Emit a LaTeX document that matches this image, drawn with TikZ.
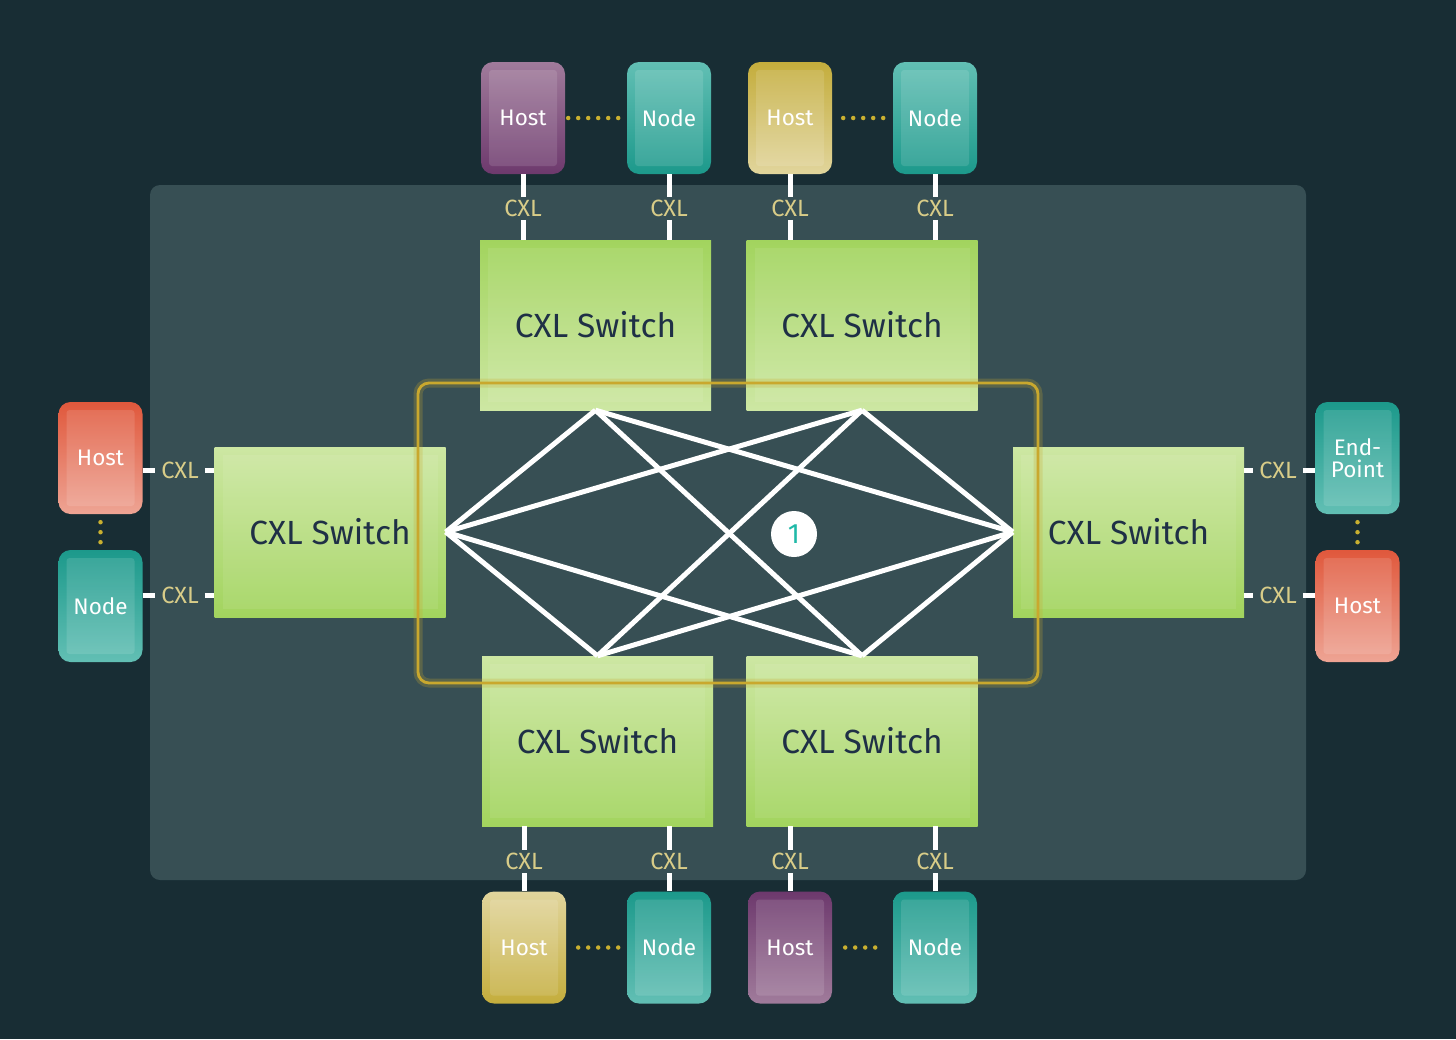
\documentclass[tikz,border=0pt]{standalone}
\usepackage{fontspec}
\setmainfont{Fira Sans}
\usetikzlibrary{calc}
\definecolor{bgdark}{HTML}{182D34}
\definecolor{panel}{HTML}{374F54}
\definecolor{purpleL}{HTML}{A07B9B}
\definecolor{purpleD}{HTML}{6D396D}
\definecolor{tealL}{HTML}{62BFB4}
\definecolor{tealD}{HTML}{1C998B}
\definecolor{yellowL}{HTML}{E1D59C}
\definecolor{yellowD}{HTML}{C4AD3C}
\definecolor{redL}{HTML}{EEA494}
\definecolor{redD}{HTML}{E0583C}
\definecolor{greenL}{HTML}{CDE7A3}
\definecolor{greenD}{HTML}{A2D45E}
\definecolor{swtext}{HTML}{1F3046}
\definecolor{cxltext}{HTML}{D8CC88}
\definecolor{dotcol}{HTML}{C9B030}
\definecolor{ringcol}{HTML}{C9A82E}
\definecolor{onecol}{HTML}{20B9A8}
\tikzset{
  dev/.style 2 args={rounded corners=12pt, minimum width=84pt, minimum height=112pt,
    inner sep=0pt, top color=#1, bottom color=#2, text=white,
    font=\fontsize{22.5}{24}\selectfont,
    path picture={\fill[white,fill opacity=0.12,rounded corners=3pt]
      ([shift={(8pt,-8pt)}]path picture bounding box.north west) rectangle
      ([shift={(-8pt,8pt)}]path picture bounding box.south east);}},
  sw/.style 2 args={minimum width=231pt, minimum height=170pt, inner sep=0pt,
    top color=#1, bottom color=#2, text=swtext,
    font=\fontsize{33.5}{38}\selectfont,
    path picture={\fill[white,fill opacity=0.08]
      ([shift={(8pt,-8pt)}]path picture bounding box.north west) rectangle
      ([shift={(-8pt,8pt)}]path picture bounding box.south east);}},
  cxl/.style={text=cxltext, font=\fontsize{23.5}{26}\selectfont, inner xsep=6pt, inner ysep=3pt},
  wire/.style={white, line width=5pt},
  mesh/.style={white, line width=5pt},
  dots/.style={dotcol, line width=4.5pt, line cap=round, dash pattern=on 0pt off 10pt},
}
\begin{document}
\begin{tikzpicture}[x=1pt,y=1pt]
\fill[bgdark] (0,0) rectangle (1456,-1039);
\useasboundingbox (0,0) rectangle (1456,-1039);
\fill[panel, rounded corners=10pt] (150,-185) rectangle (1306,-880);

% switches
\node[sw={greenD}{greenL}] (swTL) at (595.5,-325) {CXL Switch};
\node[sw={greenD}{greenL}] (swTR) at (862,-325) {CXL Switch};
\node[sw={greenL}{greenD}] (swL) at (330,-532) {CXL Switch};
\node[sw={greenL}{greenD}] (swR) at (1128.5,-532) {CXL Switch};
\node[sw={greenL}{greenD}] (swBL) at (597.5,-741) {CXL Switch};
\node[sw={greenL}{greenD}] (swBR) at (862,-741) {CXL Switch};

% mesh
\foreach \a in {swL.east, swR.west}
  \foreach \b in {swTL.south, swTR.south, swBL.north, swBR.north}
    \draw[mesh, line join=round] (\a) -- (\b);
\draw[mesh] (swTL.south) -- (swBR.north);
\draw[mesh] (swTR.south) -- (swBL.north);

% highlight ring
\draw[ringcol, line width=9pt, opacity=0.25, rounded corners=11pt] (418,-383) rectangle (1038,-683);
\draw[ringcol, line width=2.8pt, rounded corners=11pt] (418,-383) rectangle (1038,-683);

\node[circle, fill=white, minimum size=46pt, inner sep=0pt, text=onecol,
  font=\fontsize{28}{30}\selectfont] (one) at (794,-534) {1};

% top devices
\node[dev={purpleL}{purpleD}] (tH1) at (523,-118) {Host};
\node[dev={tealL}{tealD}] (tN1) at (669,-118) {Node};
\node[dev={yellowD}{yellowL}] (tH2) at (790,-118) {Host};
\node[dev={tealL}{tealD}] (tN2) at (935,-118) {Node};
% bottom devices
\node[dev={yellowL}{yellowD}] (bH1) at (524,-947.5) {Host};
\node[dev={tealD}{tealL}] (bN1) at (669,-947.5) {Node};
\node[dev={purpleD}{purpleL}] (bH2) at (790,-947.5) {Host};
\node[dev={tealD}{tealL}] (bN2) at (935,-947.5) {Node};
% left devices
\node[dev={redD}{redL}] (lH) at (100.5,-458) {Host};
\node[dev={tealD}{tealL}] (lN) at (100.5,-606) {Node};
% right devices
\node[dev={tealD}{tealL}, align=center, font=\fontsize{22.5}{22}\selectfont] (rE) at (1357.5,-458) {End-\\Point};
\node[dev={redD}{redL}] (rH) at (1357.5,-606) {Host};

% dotted links
\draw[dots, shorten <=3pt, shorten >=8pt] (tH1.east) -- (tN1.west);
\draw[dots, shorten <=11pt, shorten >=9pt] (tH2.east) -- (tN2.west);
\draw[dots, shorten <=12pt, shorten >=8pt] (bH1.east) -- (bN1.west);
\draw[dots, shorten <=13pt, shorten >=17pt] (bH2.east) -- (bN2.west);
\draw[dots, shorten <=8pt, shorten >=7pt] (lH.south) -- (lN.north);
\draw[dots, shorten <=8pt, shorten >=7pt] (rE.south) -- (rH.north);

% top CXL links
\foreach \d/\s/\n in {tH1/swTL/1, tN1/swTL/2, tH2/swTR/3, tN2/swTR/4}{
  \node[cxl] (tc\n) at ($(\d.south)+(0,-34)$) {CXL};
  \draw[wire] (\d.south) -- (tc\n.north);
  \draw[wire] (tc\n.south) -- (tc\n.south |- \s.north);
}
% bottom CXL links
\foreach \d/\s/\n in {bH1/swBL/1, bN1/swBL/2, bH2/swBR/3, bN2/swBR/4}{
  \node[cxl] (bc\n) at ($(\d.north)+(0,30)$) {CXL};
  \draw[wire] (\d.north) -- (bc\n.south);
  \draw[wire] (bc\n.north) -- (bc\n.north |- \s.south);
}
% left CXL links
\node[cxl] (lc1) at (180,-470) {CXL};
\node[cxl] (lc2) at (180,-595) {CXL};
\draw[wire] (lc1.west -| lH.east) -- (lc1.west);
\draw[wire] (lc1.east) -- (lc1.east -| swL.west);
\draw[wire] (lc2.west -| lN.east) -- (lc2.west);
\draw[wire] (lc2.east) -- (lc2.east -| swL.west);
% right CXL links
\node[cxl] (rc1) at (1278,-470) {CXL};
\node[cxl] (rc2) at (1278,-595) {CXL};
\draw[wire] (rc1.west -| swR.east) -- (rc1.west);
\draw[wire] (rc1.east) -- (rc1.east -| rE.west);
\draw[wire] (rc2.west -| swR.east) -- (rc2.west);
\draw[wire] (rc2.east) -- (rc2.east -| rH.west);
\end{tikzpicture}
\end{document}
